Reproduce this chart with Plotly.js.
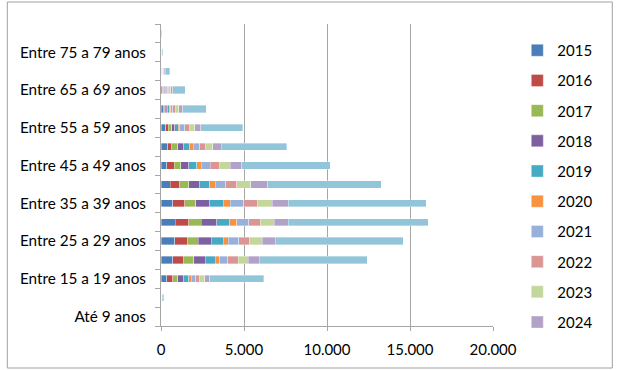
<!DOCTYPE html>
<html>
<head>
<meta charset="utf-8">
<script src="https://cdn.plot.ly/plotly-3.0.1.min.js"></script>
<style>
  html, body { margin: 0; padding: 0; background: #fff; }
  #chart { width: 619px; height: 370px; }
</style>
</head>
<body>
<div id="chart"></div>
<script>
const categories = ["Até 9 anos","Entre 10 a 14 anos","Entre 15 a 19 anos","Entre 20 a 24 anos","Entre 25 a 29 anos","Entre 30 a 34 anos","Entre 35 a 39 anos","Entre 40 a 44 anos","Entre 45 a 49 anos","Entre 50 a 54 anos","Entre 55 a 59 anos","Entre 60 a 64 anos","Entre 65 a 69 anos","Entre 70 a 74 anos","Entre 75 a 79 anos","80 anos ou mais"];

const v2015 = [0,5,337,698,819,861,698,542,361,397,277,156,80,25,3,1];
const v2016 = [0,4,361,662,764,800,722,560,439,265,162,60,40,12,2,1];
const v2017 = [0,5,325,602,662,764,686,560,403,361,199,102,50,18,3,1];
const v2018 = [0,6,337,704,782,945,843,662,457,337,205,102,55,20,3,2];
const v2019 = [0,6,301,602,722,758,800,626,506,361,199,96,55,20,3,2];
const v2020 = [0,3,162,259,301,445,421,319,259,223,102,60,35,12,2,1];
const v2021 = [0,7,259,506,620,698,800,644,542,379,301,144,80,30,4,2];
const v2022 = [0,8,265,620,662,722,825,662,560,343,277,138,85,32,5,2];
const v2023 = [0,10,277,602,764,825,903,819,644,463,325,199,100,40,6,3];
const v2024 = [0,12,301,662,800,843,963,1023,704,500,361,241,118,50,8,4];
const vTotal = [0,90,3250,6500,7686,8444,8306,6861,5315,3954,2528,1426,764,259,80,30];

const seriesNames = ["2015","2016","2017","2018","2019","2020","2021","2022","2023","2024","Total"];
const seriesValues = [v2015,v2016,v2017,v2018,v2019,v2020,v2021,v2022,v2023,v2024,vTotal];
const seriesColors = ["#4A7EBB","#BE4B48","#98B954","#7D60A0","#46AAC5","#F69240","#97B1DB","#DA9694","#C3D69B","#B3A2C7","#92C5D9"];

const xTicks = [0,5000,10000,15000,20000];

const traces = seriesNames.map((name, i) => ({
  type: "bar",
  orientation: "h",
  name: name,
  y: categories,
  x: seriesValues[i],
  legendgroup: "g" + i,
  showlegend: name !== "Total",
  marker: { color: seriesColors[i], line: { color: "rgba(255,255,255,0.7)", width: 0.5 } },
  hoverinfo: "x+name"
}));

const L = 160.7, R = 126.3, T = 24, B = 44;
const W = 619 - L - R, H = 370 - T - B;
const px = v => (v - L) / W;
const py = v => (370 - B - v) / H;

const layout = {
  width: 619, height: 370,
  margin: { l: L, r: R, t: T, b: B, pad: 0 },
  barmode: "stack",
  bargap: 0.62,
  separators: ",.",
  paper_bgcolor: "#ffffff",
  plot_bgcolor: "#ffffff",
  font: { family: "Lato, 'Open Sans', sans-serif", size: 15, color: "#000" },
  xaxis: {
    range: [0, 20000],
    tickmode: "array",
    tickvals: xTicks,
    tickformat: ",d",
    showgrid: true, gridcolor: "#A6A6A6", gridwidth: 1,
    showline: true, linecolor: "#A6A6A6", linewidth: 1,
    zeroline: false,
    ticks: "outside", ticklen: 4, tickcolor: "#A6A6A6",
    ticklabelstandoff: 6,
    tickfont: { size: 15 },
    fixedrange: true
  },
  yaxis: {
    type: "category",
    range: [-0.5, 15.5],
    tickmode: "array",
    tickvals: categories,
    ticktext: categories.map((c, i) => (i % 2 === 0 ? c : "")),
    tickson: "boundaries",
    ticks: "outside", ticklen: 5, tickcolor: "#A6A6A6",
    showline: true, linecolor: "#A6A6A6", linewidth: 1,
    showgrid: false, zeroline: false,
    ticklabelstandoff: 11,
    tickfont: { size: 15.3 },
    fixedrange: true
  },
  legend: {
    x: px(517), xanchor: "left",
    y: py(34), yanchor: "top",
    traceorder: "grouped",
    tracegroupgap: 7.7,
    font: { size: 15 },
    bgcolor: "rgba(0,0,0,0)"
  },
  shapes: [{
    type: "rect", xref: "paper", yref: "paper", layer: "below",
    x0: px(7), x1: px(612), y0: py(368), y1: py(2),
    line: { color: "#A0A0A0", width: 1 }, fillcolor: "rgba(0,0,0,0)"
  }]
};

Plotly.newPlot("chart", traces, layout, { displayModeBar: false, staticPlot: true });
</script>
</body>
</html>
